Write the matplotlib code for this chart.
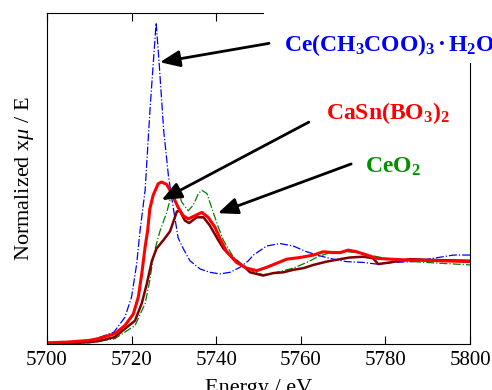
import numpy as np
import matplotlib.pyplot as plt
from matplotlib.patches import Rectangle

plt.rcParams['font.family'] = ['Liberation Serif', 'DejaVu Serif']
plt.rcParams['mathtext.fontset'] = 'custom'
plt.rcParams['mathtext.rm'] = 'Liberation Serif:bold'
plt.rcParams['mathtext.it'] = 'Liberation Serif:italic'

# Ce(CH3COO)3.H2O (blue, dash-dot)
e_ac = [5700, 5705, 5710, 5715.8, 5718.4, 5720, 5721.2, 5722, 5723.2, 5724.4, 5725.8, 5726.5,
        5727.6, 5728.7, 5729.9, 5731, 5732.2, 5733.8, 5736.2, 5738.5, 5740.9, 5743.3, 5745.6, 5747.6,
        5748.8, 5751.9, 5755.1, 5758.2, 5761.4, 5764.5, 5767.7, 5770.8, 5774.8, 5777.9, 5781.9,
        5786.6, 5791.3, 5796.1, 5800]
mu_ac = [0.01, 0.02, 0.04, 0.15, 0.33, 0.58, 0.98, 1.39, 1.88, 2.9, 3.92, 3.44,
         2.6, 2.06, 1.65, 1.3, 1.17, 1.02, 0.92, 0.88, 0.86, 0.88, 0.94, 1.02,
         1.09, 1.2, 1.23, 1.2, 1.13, 1.08, 1.04, 1.01, 1.0, 0.98, 1.0,
         1.01, 1.05, 1.09, 1.09]

# CeO2 (green, dash-dot)
e_ceo2 = [5700, 5705, 5710, 5716, 5720.8, 5723.2, 5724.3, 5725.1, 5725.9, 5726.7, 5728.3, 5729.5,
          5730.4, 5731, 5731.8, 5733.4, 5734.6, 5735.8, 5736.6, 5737.8, 5739.3, 5740.5, 5741.7,
          5744, 5746, 5748.8, 5751.1, 5754.3, 5758.2, 5761.4, 5764.5, 5767.7, 5770.8, 5774,
          5777.1, 5781.1, 5786.6, 5792.9, 5800]
mu_ceo2 = [0.01, 0.01, 0.02, 0.07, 0.23, 0.5, 0.78, 1.06, 1.23, 1.38, 1.61, 1.84,
           1.93, 1.9, 1.74, 1.63, 1.7, 1.84, 1.88, 1.84, 1.61, 1.43, 1.27,
           1.07, 0.98, 0.89, 0.85, 0.88, 0.93, 1.0, 1.08, 1.13, 1.13, 1.12,
           1.08, 1.04, 1.01, 0.99, 0.97]

# second sample (dark red)
e_dk = [5700, 5705, 5710, 5712, 5716, 5718.4, 5720.8, 5722.4, 5723.6, 5724.8, 5725.9, 5727.5,
        5729.1, 5730.7, 5731.4, 5732.6, 5733.6, 5735.4, 5737, 5738.5, 5740.5, 5741.7, 5744,
        5747.2, 5748, 5751.1, 5753.5, 5755.9, 5758.2, 5760.6, 5763, 5766.1, 5769.3, 5771.6,
        5774.8, 5777.1, 5778.3, 5781.1, 5785.8, 5791.3, 5800]
mu_dk = [0.02, 0.01, 0.03, 0.04, 0.09, 0.19, 0.29, 0.5, 0.74, 1.02, 1.17, 1.27,
         1.38, 1.62, 1.63, 1.51, 1.48, 1.55, 1.55, 1.45, 1.27, 1.17, 1.05,
         0.92, 0.88, 0.84, 0.87, 0.88, 0.91, 0.93, 0.97, 1.01, 1.04, 1.06,
         1.07, 1.05, 0.98, 1.0, 1.04, 1.03, 1.02]

# CaSn(BO3)2 (red)
e_cs = [5700, 5705, 5710, 5712, 5716, 5718.4, 5720.4, 5721.6, 5722.4, 5723.2, 5723.8, 5724.3,
        5725.1, 5726.3, 5727.1, 5728.3, 5729.5, 5731, 5732.2, 5733.4, 5735, 5736.6, 5738.1,
        5739.7, 5740.9, 5742.5, 5744.8, 5747.2, 5749.6, 5751.9, 5754.3, 5756.7, 5759.8, 5763,
        5765.3, 5767.7, 5769.3, 5771.2, 5773.2, 5775.6, 5777.9, 5781.1, 5785, 5793, 5800]
mu_cs = [0.02, 0.03, 0.05, 0.07, 0.13, 0.23, 0.37, 0.58, 0.86, 1.19, 1.39, 1.65,
         1.82, 1.96, 1.98, 1.95, 1.84, 1.67, 1.57, 1.53, 1.57, 1.61, 1.55,
         1.43, 1.29, 1.13, 1.0, 0.93, 0.9, 0.94, 0.99, 1.04, 1.06, 1.09,
         1.13, 1.12, 1.12, 1.15, 1.13, 1.09, 1.05, 1.04, 1.03, 1.02, 1.01]

xticks = [5700, 5720, 5740, 5760, 5780, 5800]

fig = plt.figure(figsize=(4.92, 3.90), dpi=100)
ax = fig.add_axes([0.0955, 0.1167, 0.8598, 0.85])

ax.plot(e_ac, mu_ac, '-.', color='#0000ff', lw=0.9)
ax.plot(e_ceo2, mu_ceo2, '-.', color='#008000', lw=0.9)
ax.plot(e_dk, mu_dk, '-', color='#800000', lw=1.8)
ax.plot(e_cs, mu_cs, '-', color='#ff0000', lw=2.2)

ax.set_xlim(5700, 5800)
ax.set_ylim(0, 4.04)
ax.set_xticks(xticks)
ax.set_yticks([])
ax.tick_params(axis='x', direction='in', top=True, length=6, labelsize=15, pad=5)
ax.set_xlabel('Energy / eV', fontsize=16, labelpad=6)
ax.set_ylabel(r'Normalized x$\mu$ / E', fontsize=16, labelpad=8)

# white patch hiding the top-right corner behind the label
ax.add_patch(Rectangle((0.5366, 0.8385), 0.47, 0.17, transform=fig.transFigure,
                       facecolor='white', edgecolor='none', clip_on=False, zorder=3))

arr = dict(arrowstyle='-|>,head_length=0.6,head_width=0.25', mutation_scale=20,
           color='black', lw=2, shrinkA=0, shrinkB=0)
ax.annotate('', xy=(5726.7, 3.44), xytext=(5752.5, 3.67), arrowprops=arr, zorder=4)
ax.annotate('', xy=(5727.1, 1.76), xytext=(5761.9, 2.71), arrowprops=arr, zorder=4)
ax.annotate('', xy=(5740.4, 1.6), xytext=(5771.9, 2.2), arrowprops=arr, zorder=4)

ax.text(5756.0, 3.65, r'Ce(CH$_3$COO)$_3\,$·$\,$H$_2$O', color='#0000ff', fontsize=17,
        fontweight='bold', va='center', ha='left', zorder=5)
ax.text(5766.0, 2.82, r'CaSn(BO$_3$)$_2$', color='#ff0000', fontsize=17,
        fontweight='bold', va='center', ha='left', zorder=5)
ax.text(5775.2, 2.17, r'CeO$_2$', color='#009000', fontsize=17,
        fontweight='bold', va='center', ha='left', zorder=5)

plt.savefig('out.png', dpi=100)
